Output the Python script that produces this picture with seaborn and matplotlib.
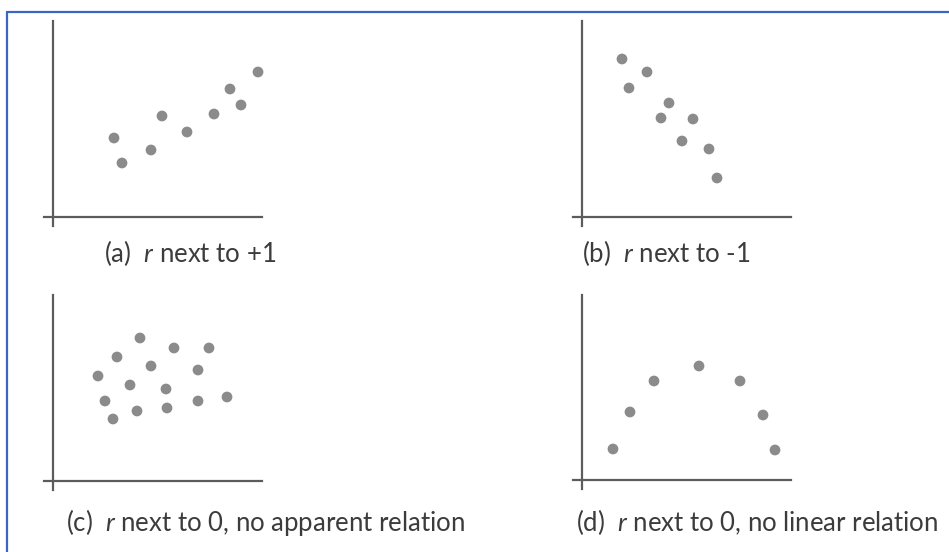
import pandas as pd
import matplotlib.pyplot as plt
import matplotlib.lines as mlines
import seaborn as sns

# points (units: 1 = 20 px, origin at axis corner)
a_x = [3.05, 3.45, 4.9, 5.45, 6.7, 8.05, 8.85, 9.4, 10.25]
a_y = [3.95, 2.7, 3.35, 5.05, 4.25, 5.15, 6.4, 5.6, 7.25]

b_x = [2.0, 2.35, 3.25, 4.35, 3.95, 5.55, 5.0, 6.35, 6.75]
b_y = [7.9, 6.45, 7.25, 5.7, 4.95, 4.9, 3.8, 3.4, 1.95]

c_x = [2.25, 3.2, 4.35, 4.9, 3.85, 2.6, 3.0, 4.2, 5.65, 5.7, 6.05, 7.25, 7.25, 7.8, 8.7]
c_y = [5.25, 6.2, 7.15, 5.75, 4.8, 4.0, 3.1, 3.5, 4.6, 3.65, 6.65, 5.55, 4.0, 6.65, 4.2]

d_x = [1.55, 2.4, 3.6, 5.85, 7.9, 9.05, 9.65]
d_y = [1.55, 3.4, 4.95, 5.7, 4.95, 3.25, 1.5]

labels = ['(a)  $\\mathit{r}$ next to +1',
          '(b)  $\\mathit{r}$ next to -1',
          '(c)  $\\mathit{r}$ next to 0, no apparent relation',
          '(d)  $\\mathit{r}$ next to 0, no linear relation']

sns.set_theme(style="white")
plt.rcParams['font.family'] = ['Lato', 'DejaVu Sans']
plt.rcParams['mathtext.fontset'] = 'custom'
plt.rcParams['mathtext.it'] = 'Lato:italic'
plt.rcParams['mathtext.rm'] = 'Lato'

W, H = 949, 552
fig = plt.figure(figsize=(W / 100, H / 100), dpi=100)
fig.patch.set_facecolor('white')

# origin of each panel in pixels, top of y axis (data units), label position
panels = [
    (a_x, a_y, (53, 217), 9.8, (104, 253)),
    (b_x, b_y, (582, 217), 9.8, (582, 253)),
    (c_x, c_y, (53, 481), 9.3, (66, 522)),
    (d_x, d_y, (582, 480), 9.25, (576, 522)),
]

for (xs, ys, (ox, oy), ytop, (tx, ty)), lab in zip(panels, labels):
    left = ox - 10
    ax = fig.add_axes([left / W, (H - (oy + 10)) / H, 222 / W, 210 / H])
    df = pd.DataFrame({'x': xs, 'y': ys})
    sns.scatterplot(data=df, x='x', y='y', ax=ax, s=60, color='#8b8b8b',
                    edgecolor='none', legend=False)
    ax.set_xlim(-0.5, 10.6)
    ax.set_ylim(-0.5, 10.0)
    ax.set_xticks([])
    ax.set_yticks([])
    ax.set_xlabel('')
    ax.set_ylabel('')
    ax.patch.set_alpha(0)
    for side in ['top', 'right']:
        ax.spines[side].set_visible(False)
    ax.spines['left'].set_position(('data', 0))
    ax.spines['bottom'].set_position(('data', 0))
    ax.spines['left'].set_bounds(-0.45, ytop)
    ax.spines['bottom'].set_bounds(-0.45, 10.45)
    for side in ['left', 'bottom']:
        ax.spines[side].set_color('#5c5c5c')
        ax.spines[side].set_linewidth(1.6)
    fig.text(tx / W, 1 - ty / H, lab, fontsize=18.5, color='#3c3c3c',
             ha='left', va='center')

# blue frame (top and left edges)
fig.add_artist(mlines.Line2D([7 / W, 1], [1 - 12 / H, 1 - 12 / H],
                             color='#3d66c4', lw=1.6, transform=fig.transFigure))
fig.add_artist(mlines.Line2D([7 / W, 7 / W], [0, 1 - 12 / H],
                             color='#3d66c4', lw=1.6, transform=fig.transFigure))

plt.savefig('out.png', dpi=100)
